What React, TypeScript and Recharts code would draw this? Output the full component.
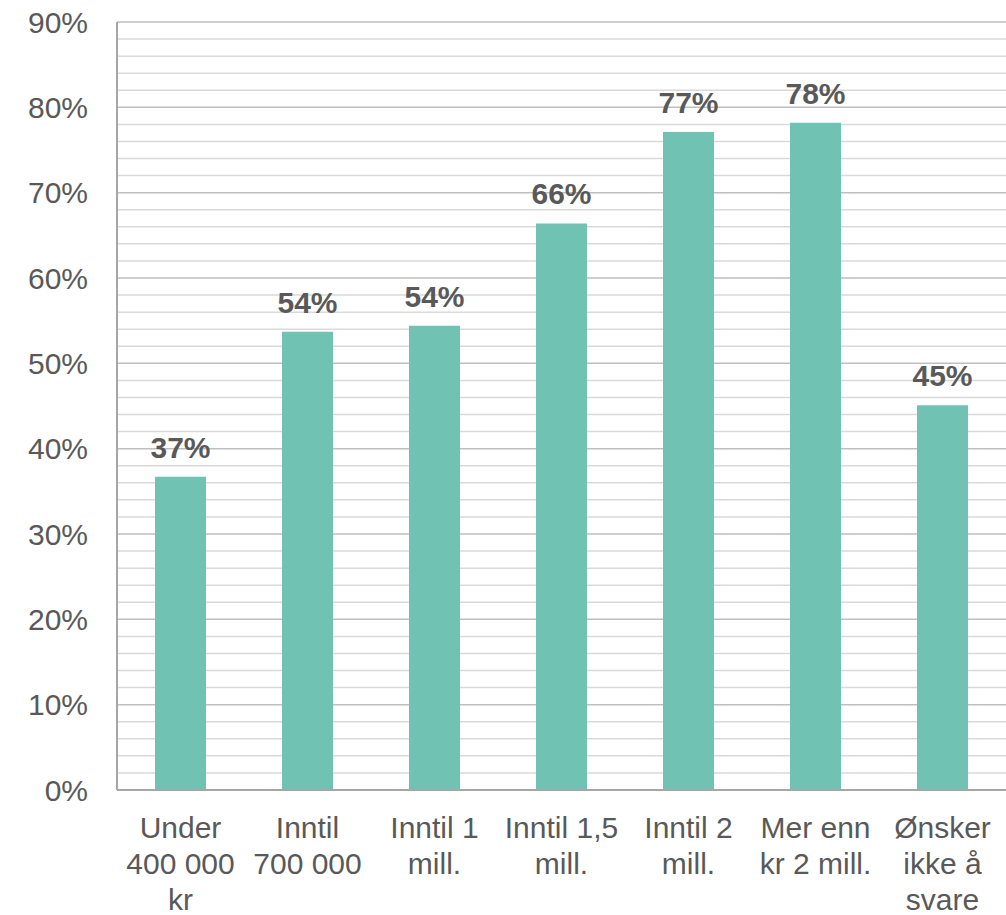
import { BarChart, Bar, XAxis, YAxis, CartesianGrid, LabelList } from "recharts";

const categories = [
  "Under\n400 000\nkr",
  "Inntil\n700 000",
  "Inntil 1\nmill.",
  "Inntil 1,5\nmill.",
  "Inntil 2\nmill.",
  "Mer enn\nkr 2 mill.",
  "Ønsker\nikke å\nsvare",
];
const shares = [36.7, 53.7, 54.4, 66.4, 77.1, 78.2, 45.1];
// grid every 2%, labels every 10%
const yTicks = [
  0, 2, 4, 6, 8, 10, 12, 14, 16, 18, 20, 22, 24, 26, 28, 30, 32, 34, 36, 38,
  40, 42, 44, 46, 48, 50, 52, 54, 56, 58, 60, 62, 64, 66, 68, 70, 72, 74, 76,
  78, 80, 82, 84, 86, 88, 90,
];

const data = categories.map((name, i) => ({ name, value: shares[i] }));

const TEXT = "#595959";
const FONT = "'Liberation Sans', Arial, sans-serif";

const CategoryTick = (props: any) => {
  const { x, y, payload } = props;
  const lines = String(payload.value).split("\n");
  return (
    <text x={x} y={y} textAnchor="middle" fill={TEXT} fontSize={30} fontFamily={FONT}>
      {lines.map((line, i) => (
        <tspan key={i} x={x} dy={i === 0 ? 40 : 36}>
          {line}
        </tspan>
      ))}
    </text>
  );
};

const PercentTick = (props: any) => {
  const { x, y, payload } = props;
  if (payload.value % 10 !== 0) return <g />;
  return (
    <text x={x} y={y} dy="0.355em" textAnchor="end" fill={TEXT} fontSize={30} fontFamily={FONT}>
      {`${payload.value}%`}
    </text>
  );
};

const GridLine = (p: any) => (
  <line
    key={`g-${p.index}`}
    x1={p.x1}
    y1={p.y1}
    x2={p.x2}
    y2={p.y2}
    stroke={p.index % 5 === 0 ? "#bfbfbf" : "#d9d9d9"}
    strokeWidth={1.5}
  />
);

const App = () => {
  return (
    <div style={{ position: "absolute", left: 0, top: 0, background: "#fff" }}>
      <BarChart
        width={1006}
        height={915}
        data={data}
        margin={{ top: 22, right: 0, bottom: 0, left: 0 }}
      >
        <CartesianGrid vertical={false} horizontal={GridLine} />
        <XAxis
          dataKey="name"
          height={125}
          interval={0}
          tickLine={false}
          axisLine={{ stroke: "#a6a6a6", strokeWidth: 2 }}
          tick={<CategoryTick />}
        />
        <YAxis
          width={117}
          domain={[0, 90]}
          ticks={yTicks}
          interval={0}
          tickLine={false}
          tickSize={0}
          tickMargin={29}
          axisLine={{ stroke: "#a6a6a6", strokeWidth: 2 }}
          tick={<PercentTick />}
        />
        <Bar dataKey="value" fill="#70C3B3" isAnimationActive={false} barSize={51}>
          <LabelList
            dataKey="value"
            position="top"
            offset={19}
            formatter={(v: any) => `${Number(v).toFixed(0)}%`}
            fill={TEXT}
            fontSize={30}
            fontWeight="bold"
            fontFamily={FONT}
          />
        </Bar>
      </BarChart>
    </div>
  );
};

export default App;
